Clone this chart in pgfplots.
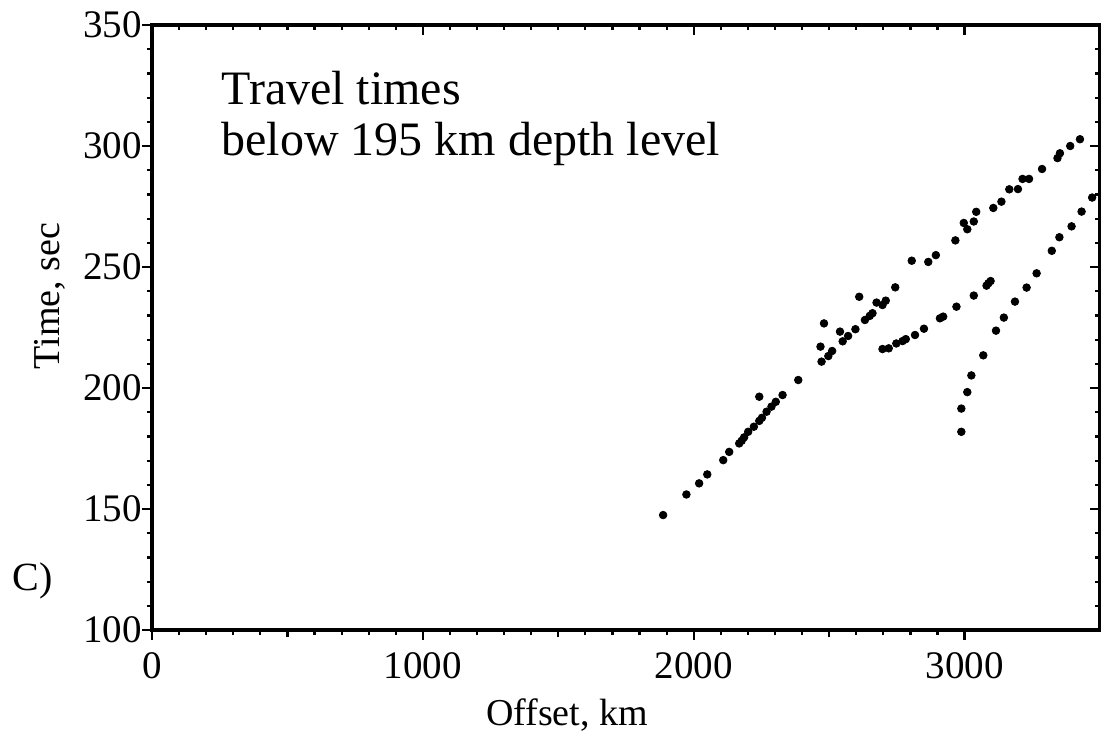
\documentclass[border=0pt]{standalone}
\usepackage{pgfplots}
\pgfplotsset{compat=1.18}
\usepackage{fontspec}
\setmainfont{Liberation Serif}

\pgfplotstableread{
x y
1887 147.5
1973 156
2020 160.6
2050 164.3
2109 170.2
2131 173.6
2168 177.1
2177 178.2
2186 179.6
2201 181.9
2222 184
2242 186.4
2252 187.7
2269 190.2
2287 192.3
2303 194.3
2328 197.1
2242 196.4
2386 203.3
2472 210.9
2468 217.1
2497 213.2
2511 215.3
2481 226.7
2540 223.3
2550 219.3
2570 221.5
2597 224.3
2611 237.7
2632 228.1
2650 229.8
2660 230.9
2675 235.3
2697 234.3
2709 236.1
2744 241.6
2805 252.6
2866 252.1
2894 254.9
2966 261
2997 268.2
3010 265.6
3034 268.8
3043 272.8
3106 274.4
3136 277
3165 282.1
3197 282.2
3214 286.4
3238 286.4
3286 290.5
3343 295
3352 297
3390 300
3426 302.8
}\branchA

\pgfplotstableread{
x y
2697 216.1
2720 216.4
2748 218.4
2771 219.4
2783 220.2
2817 221.9
2850 224.5
2909 228.8
2921 229.5
2970 233.6
3034 238.2
3081 242.3
3088 243.3
3096 244.2
}\branchB

\pgfplotstableread{
x y
2988 181.9
2988 191.5
3010 198.3
3025 205.2
3069 213.5
3116 223.7
3145 229.1
3186 235.7
3229 241.5
3266 247.4
3322 256.7
3350 262.3
3395 266.8
3432 272.9
3471 278.7
}\branchC

\begin{document}
\begin{tikzpicture}
\pgfplotsset{
  common/.style={
    at={(0,0)}, anchor=south west,
    width=474pt, height=302.5pt, scale only axis,
    xmin=0, xmax=3500, ymin=100, ymax=350,
    xtick={0,1000,2000,3000},
    ytick={100,150,200,250,300,350},
    minor x tick num=9, minor y tick num=4,
    axis line style={line width=1.8pt, black},
    every tick/.style={black, line width=1.1pt},
    major tick length=5pt, minor tick length=2.6pt,
    clip=false,
  }
}
\begin{axis}[common,
    tick align=inside,
    xtick pos=right, ytick pos=right,
    xticklabels={}, yticklabels={},
  ]
\end{axis}
\begin{axis}[common,
    tick align=outside,
    xtick pos=left, ytick pos=left,
    extra x ticks={500,1500,2500},
    extra x tick labels={},
    extra x tick style={major tick length=3.6pt, tick align=outside},
    /pgf/number format/assume math mode=true,
    /pgf/number format/set thousands separator={},
    ticklabel style={font=\fontsize{19.5}{19.5}\selectfont},
    xticklabel style={yshift=-2.5pt},
    yticklabel style={xshift=3.5pt},
  ]
  \coordinate (O) at (rel axis cs:0,0);
  \addplot[only marks, mark=*, mark size=1.9pt, black] table[x=x,y=y] {\branchA};
  \addplot[only marks, mark=*, mark size=1.9pt, black] table[x=x,y=y] {\branchB};
  \addplot[only marks, mark=*, mark size=1.9pt, black] table[x=x,y=y] {\branchC};
\end{axis}
\node[anchor=base west, inner sep=0pt, font=\fontsize{24}{25}\selectfont] at ([xshift=34.5pt,yshift=262.5pt]O) {Travel times};
\node[anchor=base west, inner sep=0pt, font=\fontsize{24}{25}\selectfont] at ([xshift=34.5pt,yshift=237.5pt]O) {below 195 km depth level};
\node[anchor=base, inner sep=0pt, font=\fontsize{19}{19}\selectfont] at ([xshift=207.5pt,yshift=-47.5pt]O) {Offset, km};
\node[anchor=base, inner sep=0pt, rotate=90, font=\fontsize{19}{19}\selectfont] at ([xshift=-46pt,yshift=167pt]O) {Time, sec};
\node[anchor=base west, inner sep=0pt, font=\fontsize{20}{20}\selectfont] at ([xshift=-70pt,yshift=20pt]O) {C)};
\pgfresetboundingbox
\path ([xshift=-76pt,yshift=-52.5pt]O) rectangle ++(550.5pt,367.5pt);
\end{tikzpicture}
\end{document}
